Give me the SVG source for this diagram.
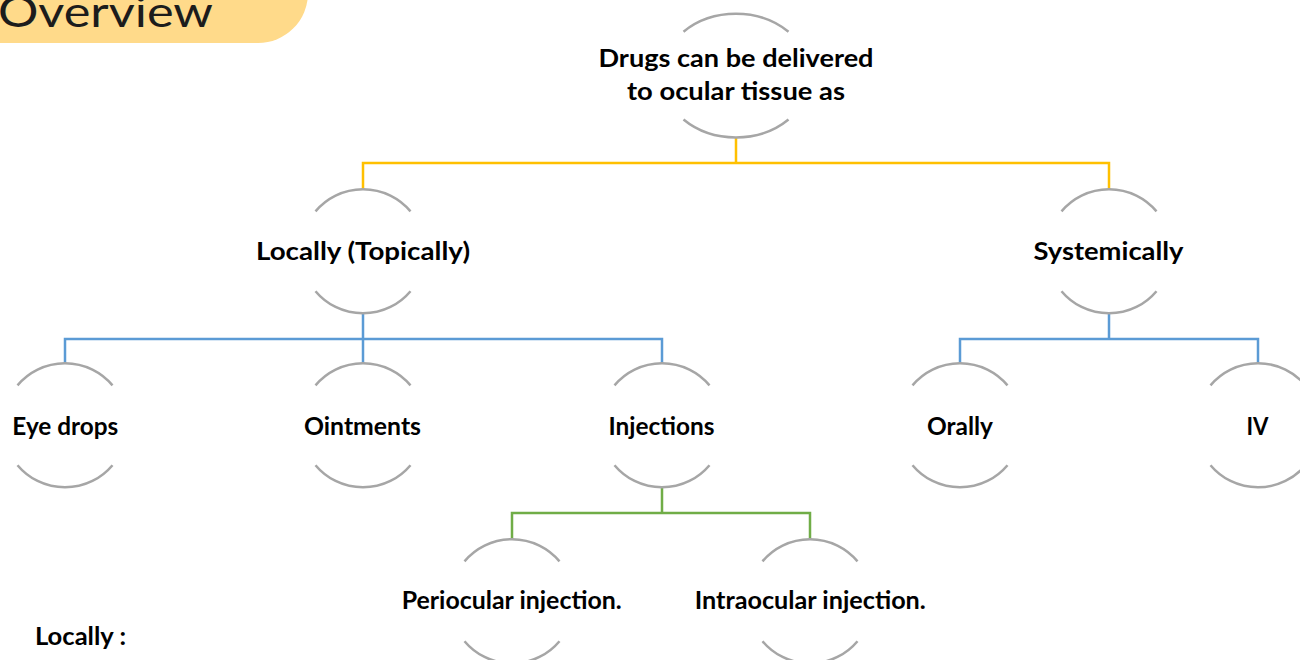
<svg xmlns="http://www.w3.org/2000/svg" xmlns:xlink="http://www.w3.org/1999/xlink" width="1300" height="660" viewBox="0 0 1300 660">
  <style>
    .arc { fill: none; stroke: #a6a6a6; stroke-width: 2.5; }
    .lbl { font-family: Lato, "Open Sans", "Liberation Sans", sans-serif; font-weight: 700; font-size: 24px; fill: #000; text-anchor: middle; }
    .link { fill: none; stroke-width: 2.5; stroke-linejoin: miter; }
    .gold { stroke: #ffc000; }
    .blue { stroke: #5b9bd5; }
    .green { stroke: #70ad47; }
    .title { font-family: Lato, "DejaVu Sans", sans-serif; font-weight: 400; font-size: 43px; fill: #1c1c1c; }
  </style>
  <defs>
    <!-- pair of arcs framing a node, centred on the origin -->
    <g id="ring">
      <path class="arc" d="M-47.5 -39.9 A62 62 0 0 1 47.5 -39.9"/>
      <path class="arc" d="M-47.5 39.9 A62 62 0 0 0 47.5 39.9"/>
    </g>
  </defs>

  <rect width="1300" height="660" fill="#ffffff"/>

  <!-- header tab -->
  <g id="header">
    <path d="M-5 -60 H308 V-7 A50 50 0 0 1 258 43 H-5 Z" fill="#ffda8a"/>
    <text class="title" x="-2" y="27" textLength="215" lengthAdjust="spacingAndGlyphs">Overview</text>
  </g>

  <!-- connectors -->
  <g id="connectors">
    <path class="link gold" d="M736 137.3 V163 M363 189.3 V163 H1109 V189.3"/>
    <path class="link blue" d="M363 313.3 V363.3 M65 363.3 V339 H662 V363.3"/>
    <path class="link blue" d="M1109 313.3 V339 M960 363.3 V339 H1258 V363.3"/>
    <path class="link green" d="M662 487.3 V513 M512 539.3 V513 H810 V539.3"/>
  </g>

  <!-- nodes -->
  <g id="node-root">
    <path class="arc" d="M683.5 31.7 A74.5 61.7 0 0 1 788.5 31.7"/>
    <path class="arc" d="M683.5 119.5 A74.5 61.7 0 0 0 788.5 119.5"/>
    <text class="lbl" x="736" y="67" textLength="275" lengthAdjust="spacingAndGlyphs">Drugs can be delivered</text>
    <text class="lbl" x="736" y="100" textLength="218" lengthAdjust="spacingAndGlyphs">to ocular tissue as</text>
  </g>

  <g id="node-locally">
    <use xlink:href="#ring" href="#ring" x="363" y="251.3"/>
    <text class="lbl" x="363" y="259.5" textLength="214" lengthAdjust="spacingAndGlyphs">Locally (Topically)</text>
  </g>

  <g id="node-systemically">
    <use xlink:href="#ring" href="#ring" x="1109" y="251.3"/>
    <text class="lbl" x="1108.5" y="259.5" textLength="150" lengthAdjust="spacingAndGlyphs">Systemically</text>
  </g>

  <g id="node-eye-drops">
    <use xlink:href="#ring" href="#ring" x="65" y="425.3"/>
    <text class="lbl" x="65.3" y="435" textLength="106" lengthAdjust="spacingAndGlyphs">Eye drops</text>
  </g>

  <g id="node-ointments">
    <use xlink:href="#ring" href="#ring" x="363" y="425.3"/>
    <text class="lbl" x="362.5" y="435" textLength="117" lengthAdjust="spacingAndGlyphs">Ointments</text>
  </g>

  <g id="node-injections">
    <use xlink:href="#ring" href="#ring" x="662" y="425.3"/>
    <text class="lbl" x="661.5" y="435" textLength="106" lengthAdjust="spacingAndGlyphs">Injections</text>
  </g>

  <g id="node-orally">
    <use xlink:href="#ring" href="#ring" x="960" y="425.3"/>
    <text class="lbl" x="960" y="435" textLength="66" lengthAdjust="spacingAndGlyphs">Orally</text>
  </g>

  <g id="node-iv">
    <use xlink:href="#ring" href="#ring" x="1258" y="425.3"/>
    <text class="lbl" x="1257.5" y="435" textLength="22" lengthAdjust="spacingAndGlyphs">IV</text>
  </g>

  <g id="node-periocular">
    <use xlink:href="#ring" href="#ring" x="512" y="601.3"/>
    <text class="lbl" x="511.7" y="609" textLength="220" lengthAdjust="spacingAndGlyphs">Periocular injection.</text>
  </g>

  <g id="node-intraocular">
    <use xlink:href="#ring" href="#ring" x="810" y="601.3"/>
    <text class="lbl" x="810.3" y="609" textLength="231" lengthAdjust="spacingAndGlyphs">Intraocular injection.</text>
  </g>

  <!-- section note -->
  <text class="lbl" x="35" y="645" style="text-anchor:start" textLength="91" lengthAdjust="spacingAndGlyphs">Locally :</text>
</svg>
